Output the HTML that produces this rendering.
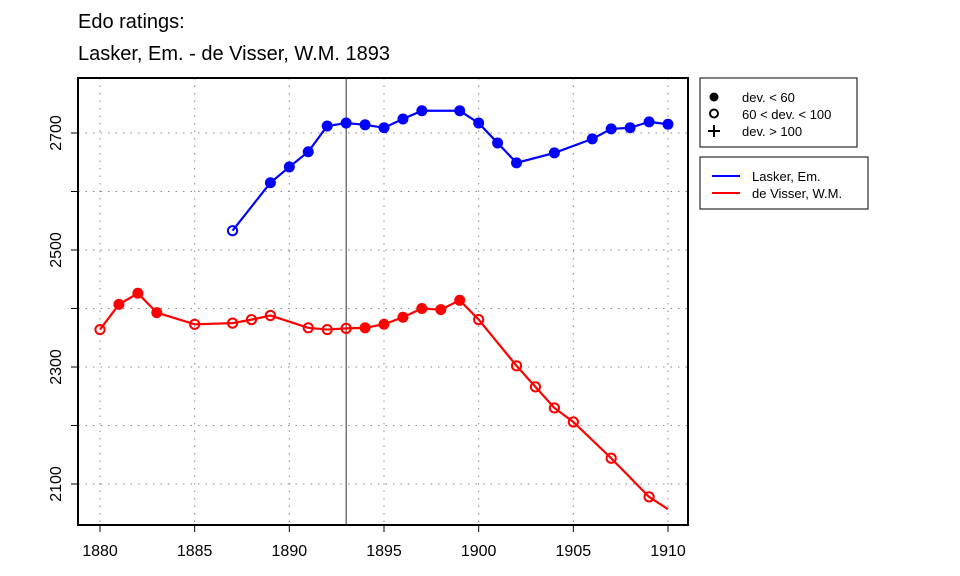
<!DOCTYPE html>
<html><head><meta charset="utf-8"><style>body{margin:0;background:#fff}svg{display:block;font-family:"Liberation Sans",Arial,sans-serif}</style></head>
<body>
<svg id="chart" width="960" height="576" viewBox="0 0 960 576">
<text x="78" y="28" font-size="20">Edo ratings:</text>
<text x="78" y="60" font-size="20">Lasker, Em. - de Visser, W.M. 1893</text>
<g id="grid"></g>
<g id="axes"></g>
<g id="series"></g>
<rect x="78" y="78" width="610" height="447" fill="none" stroke="#000" stroke-width="2"/>
<g>
<rect x="700" y="78" width="157" height="69" fill="#fff" stroke="#000" stroke-width="1"/>
<circle cx="714" cy="97" r="4.5" fill="#000"/>
<circle cx="714" cy="113.5" r="4" fill="none" stroke="#000" stroke-width="2"/>
<path d="M708 131h12M714 125v12" stroke="#000" stroke-width="2"/>
<text x="742" y="102" font-size="13">dev. &lt; 60</text>
<text x="742" y="119" font-size="13">60 &lt; dev. &lt; 100</text>
<text x="742" y="136" font-size="13">dev. &gt; 100</text>
</g>
<g>
<rect x="700" y="157" width="168" height="52" fill="#fff" stroke="#000" stroke-width="1"/>
<line x1="712" y1="176" x2="740" y2="176" stroke="#0000ff" stroke-width="2"/>
<line x1="712" y1="193" x2="740" y2="193" stroke="#ff0000" stroke-width="2"/>
<text x="752" y="181" font-size="13">Lasker, Em.</text>
<text x="752" y="198" font-size="13">de Visser, W.M.</text>
</g>
</svg>
<script>
const xTicks=[1880,1885,1890,1895,1900,1905,1910];
const yTicks=[2100,2200,2300,2400,2500,2600,2700];
const yLabels=[2100,2300,2500,2700];
const eventYear=1893;
const laskerYears=[1887,1889,1890,1891,1892,1893,1894,1895,1896,1897,1899,1900,1901,1902,1904,1906,1907,1908,1909,1910];
const laskerVals=[2533,2615,2642,2668,2712,2717,2714,2709,2724,2738,2738,2717,2683,2649,2666,2690,2707,2709,2719,2715];
const laskerDev=[1,0,0,0,0,0,0,0,0,0,0,0,0,0,0,0,0,0,0,0];
const visserYears=[1880,1881,1882,1883,1885,1887,1888,1889,1891,1892,1893,1894,1895,1896,1897,1898,1899,1900,1902,1903,1904,1905,1907,1909,1910];
const visserVals=[2364,2407,2426,2393,2373,2375,2381,2388,2367,2364,2366,2367,2373,2385,2400,2398,2414,2381,2302,2266,2230,2206,2144,2078,2057];
const visserDev=[1,0,0,0,1,1,1,1,1,1,1,0,0,0,0,0,0,1,1,1,1,1,1,1,-1];
const NS='http://www.w3.org/2000/svg';
const X=y=>100+(y-1880)*(668-100)/30;
const Y=v=>484-(v-2100)*(484-133)/600;
function mk(t,a,p){const e=document.createElementNS(NS,t);for(const k in a)e.setAttribute(k,a[k]);p.appendChild(e);return e;}
const grid=document.getElementById('grid'),axes=document.getElementById('axes'),ser=document.getElementById('series');
xTicks.forEach(t=>{
 const l=mk('line',{x1:X(t),x2:X(t),y1:78,y2:525,stroke:'#888','stroke-dasharray':'1.5 6'},grid);
 
 
 mk('line',{x1:X(t),x2:X(t),y1:525,y2:532,stroke:'#000'},axes);
 const tx=mk('text',{x:X(t),y:556,'font-size':16,'text-anchor':'middle'},axes);tx.textContent=t;
 
 
});
yTicks.forEach(t=>{
 const l=mk('line',{x1:78,x2:688,y1:Y(t),y2:Y(t),stroke:'#888','stroke-dasharray':'1.5 6'},grid);
 
 
 mk('line',{x1:71,x2:78,y1:Y(t),y2:Y(t),stroke:'#000'},axes);
});
yLabels.forEach(t=>{
 const tx=mk('text',{x:0,y:0,'font-size':16,'text-anchor':'middle',transform:`translate(61,${Y(t)}) rotate(-90)`},axes);tx.textContent=t;
 
 
});
const ev=mk('line',{x1:X(eventYear),x2:X(eventYear),y1:78,y2:525,stroke:'#000','stroke-width':0.8},axes);


function draw(years,vals,dev,col,name){
 const pl=mk('polyline',{points:years.map((y,i)=>X(y)+','+Y(vals[i])).join(' '),fill:'none',stroke:col,'stroke-width':2.2},ser);
 
 
 years.forEach((y,i)=>{
  if(dev[i]<0)return;
  const c=dev[i]===0?mk('circle',{cx:X(y),cy:Y(vals[i]),r:5.5,fill:col},ser):mk('circle',{cx:X(y),cy:Y(vals[i]),r:4.6,fill:'none',stroke:col,'stroke-width':2},ser);
  
  
 });
}
draw(laskerYears,laskerVals,laskerDev,'#0000ff','lasker');
draw(visserYears,visserVals,visserDev,'#ff0000','devisser');
</script>
</body></html>
